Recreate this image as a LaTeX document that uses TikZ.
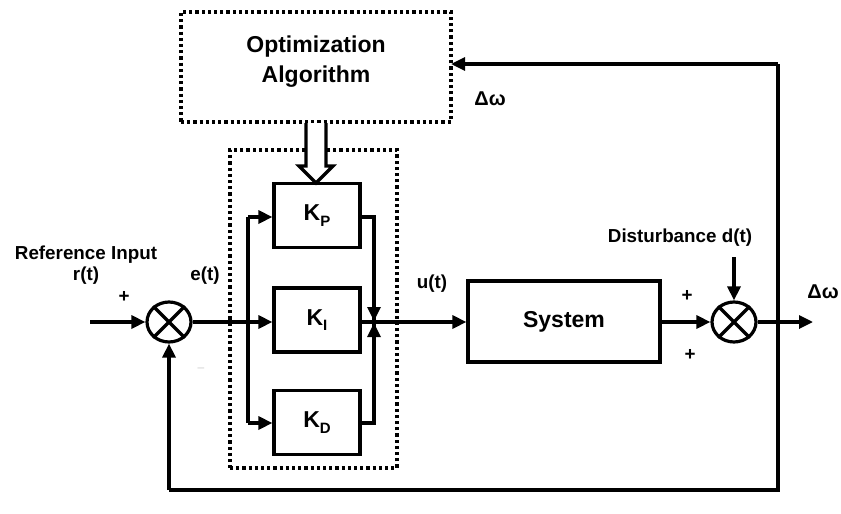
\documentclass[tikz,border=0pt]{standalone}
\usepackage{fontspec}
\setmainfont{Liberation Sans}
\usetikzlibrary{arrows.meta,shapes.geometric}
\begin{document}
\begin{tikzpicture}[x=1pt,y=-1pt,
  line width=3.2pt,
  lbl/.style={font=\fontsize{18.8}{21}\selectfont\bfseries, inner sep=0pt},
  big/.style={font=\fontsize{23}{30}\selectfont\bfseries, align=center, inner sep=0pt},
  gain/.style={draw, minimum width=86pt, minimum height=64pt, inner sep=0pt, font=\fontsize{23}{26}\selectfont\bfseries},
  dotbox/.style={draw, line width=3.4pt, dash pattern=on 3.2pt off 3pt},
  sumj/.style={draw, ellipse, minimum width=44pt, minimum height=40pt, inner sep=0pt},
  arr/.style={-{Triangle[length=14pt,width=13pt]}}
]
\useasboundingbox (0,0) rectangle (841,514);
% dotted boxes
\node[dotbox, minimum width=270pt, minimum height=110pt, inner sep=0pt] (opt) at (316,67) {};
\node[big] (opttxt) at (316,62) {Optimization\\Algorithm};
\node[dotbox, minimum width=167pt, minimum height=318pt, inner sep=0pt] (pid) at (313.5,309) {};
% gain blocks
\newcommand{\mysub}[1]{\raisebox{-0.45ex}{\fontsize{15}{15}\selectfont #1}}
\node[gain] (kp) at (317,215.5) {K\mysub{P}};
\node[gain] (ki) at (317,320) {K\mysub{I}};
\node[gain] (kd) at (317,422.5) {K\mysub{D}};
% system
\node[draw, minimum width=192pt, minimum height=81pt, inner sep=0pt, font=\fontsize{23}{26}\selectfont\bfseries] (sys) at (564,321.5) {System};
% summing junctions
\node[sumj] (s1) at (169,322) {};
\draw (s1.45) -- (s1.225) (s1.135) -- (s1.315);
\node[sumj] (s2) at (734,322) {};
\draw (s2.45) -- (s2.225) (s2.135) -- (s2.315);
% hollow arrow
\draw[fill=white, line width=3.2pt, line join=miter] (306,123) -- (306,166) -- (299,166) -- (316,183) -- (333,166) -- (326,166) -- (326,123);
% coordinates
\coordinate (in) at (90,322);
\coordinate (bp) at (248,217);
\coordinate (bd) at (248,423);
\coordinate (jn) at (374,322);
\coordinate (pr) at (374,217);
\coordinate (dr) at (374,423);
\coordinate (dist) at (734,257);
\coordinate (out) at (813,322);
\coordinate (fb1) at (778,490);
\coordinate (fb2) at (169,490);
\coordinate (fbt) at (778,64);
\coordinate (opin) at (451,64);
% connectors
\draw[arr] (in) -- (s1);
\draw[arr] (s1) -- (ki.west |- s1);
\draw (bp) -- (bd);
\draw[arr] (bp) -- (kp.west |- bp);
\draw[arr] (bd) -- (kd.west |- bd);
\draw[line join=miter] (kp.east |- pr) -- (pr) -- ([yshift=-15pt]jn);
\draw[arr] ([yshift=-15pt]jn) -- ([yshift=-1pt]jn);
\draw[line join=miter] (kd.east |- dr) -- (dr) -- ([yshift=15pt]jn);
\draw[arr] ([yshift=15pt]jn) -- ([yshift=1pt]jn);
\draw[arr] (ki.east |- jn) -- (sys.west |- jn);
\draw[arr] (sys.east |- s2) -- (s2);
\draw[arr] (dist) -- (s2);
\draw[arr] (s2) -- (out);
\draw[line join=miter] (fbt) -- (fb1) -- (fb2);
\draw[arr] (fb2) -- (s1);
\draw[arr] (fbt) -- (opin);
% labels
\node[lbl] (refl) at (86,255) {Reference Input};
\node[lbl] (rt) at (86,276) {r(t)};
\node[lbl] (p1) at (124,297) {+};
\node[lbl] (et) at (205,276) {e(t)};
\node[lbl] (ut) at (432,284) {u(t)};
\node[lbl] (dl) at (680,238) {Disturbance d(t)};
\node[lbl] (p2) at (687,296) {+};
\node[lbl] (p3) at (690,355) {+};
\node[font=\fontsize{20}{22}\selectfont\bfseries, inner sep=0pt] (dw1) at (823,292) {Δω};
\node[font=\fontsize{20}{22}\selectfont\bfseries, inner sep=0pt] (dw2) at (490,99) {Δω};
\node[text=gray!40, font=\fontsize{12}{12}\selectfont, inner sep=0pt] (mn) at (201,370) {–};
\end{tikzpicture}
\end{document}
